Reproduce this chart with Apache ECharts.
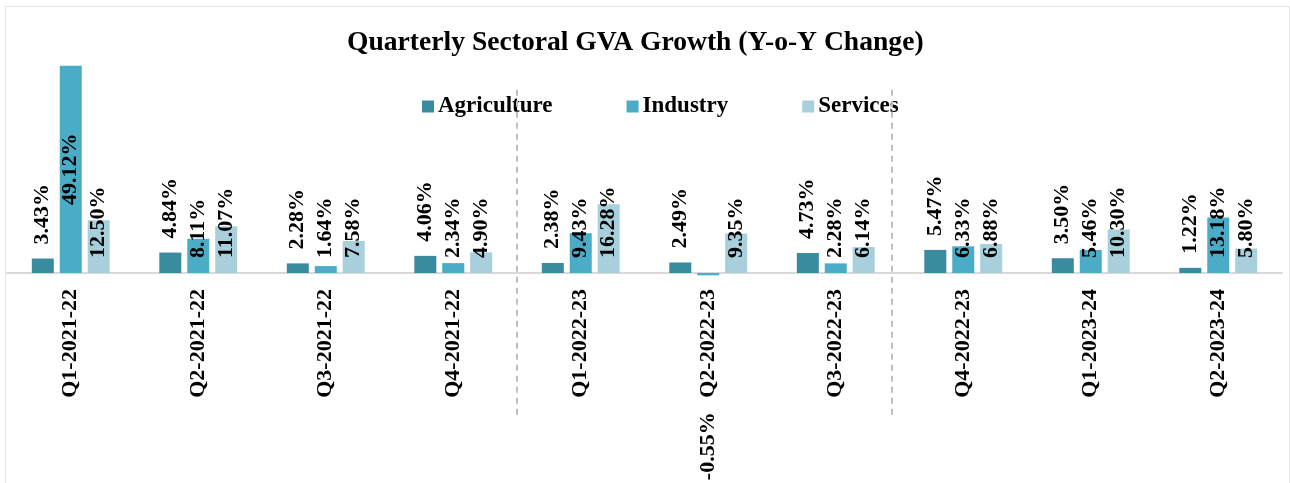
<!DOCTYPE html>
<html>
<head>
<meta charset="utf-8">
<script src="https://cdn.jsdelivr.net/npm/echarts@6/dist/echarts.min.js"></script>
<style>
  html, body { margin: 0; padding: 0; background: #fff; }
  #chartGva { width: 1290px; height: 483px; }
  .frame { position: absolute; left: 5px; top: 6px; width: 1283px; height: 500px;
           border: 1px solid #e6e6e6; pointer-events: none; }
</style>
</head>
<body>
<div id="chartGva"></div>
<div class="frame"></div>
<script>
var quarters = ['Q1-2021-22', 'Q2-2021-22', 'Q3-2021-22', 'Q4-2021-22', 'Q1-2022-23',
  'Q2-2022-23', 'Q3-2022-23', 'Q4-2022-23', 'Q1-2023-24', 'Q2-2023-24'];
var agriculture = [3.43, 4.84, 2.28, 4.06, 2.38, 2.49, 4.73, 5.47, 3.50, 1.22];
var industry = [49.12, 8.11, 1.64, 2.34, 9.43, -0.55, 2.28, 6.33, 5.46, 13.18];
var services = [12.50, 11.07, 7.58, 4.90, 16.28, 9.35, 6.14, 6.88, 10.30, 5.80];
// dashed separators between fiscal years (x in category units from the left edge)
var dividerX = [4, 6.94];
var dividerY = [43.4, -33.6];

var FONT = '"Liberation Serif", "Times New Roman", serif';

function pct(p) {
  return p.value.toFixed(2) + '%';
}

// label for industry / services: sits on the base of the bar
function baseLabel() {
  return {
    show: true, position: 'insideBottom', distance: 15, rotate: 90,
    align: 'left', verticalAlign: 'middle',
    fontFamily: FONT, fontWeight: 'bold', fontSize: 22, color: '#000',
    formatter: pct
  };
}

function withSpecialLabels(values) {
  return values.map(function (v) {
    if (v > 30) {
      // tall bar, label in the middle
      return { value: v, label: { position: 'inside', align: 'center' } };
    }
    if (v < 0) {
      // negative bar, label pushed below the category name
      return { value: v, label: { position: 'bottom', distance: 137, align: 'right' } };
    }
    return v;
  });
}

var chartGva = echarts.init(document.getElementById('chartGva'));
var chart_option = {
  animation: false,
  title: {
    text: 'Quarterly Sectoral GVA Growth (Y-o-Y Change)',
    left: 347,
    top: 29,
    padding: 0,
    textStyle: { fontFamily: FONT, fontWeight: 'bold', fontSize: 27.6, color: '#000' }
  },
  legend: {
    left: 422,
    top: 95,
    padding: 0,
    icon: 'rect',
    itemWidth: 12,
    itemHeight: 12,
    itemGap: 74,
    textStyle: { fontFamily: FONT, fontWeight: 'bold', fontSize: 23, color: '#000', padding: [0, 0, 0, -1] },
    data: ['Agriculture', 'Industry', 'Services']
  },
  grid: [
    // bars: bottom edge of the plot is the zero line
    { left: 7, right: 8, top: 62, bottom: 210, outerBoundsMode: 'none' },
    // overlay for the dashed separators
    { left: 7, right: 8, top: 62, bottom: 20, outerBoundsMode: 'none' }
  ],
  xAxis: [
    {
      type: 'category',
      gridIndex: 0,
      data: quarters,
      axisLine: { lineStyle: { color: '#d9d9d9', width: 2 } },
      axisTick: { show: false },
      axisLabel: {
        interval: 0, rotate: 90, margin: 16,
        fontFamily: FONT, fontWeight: 'bold', fontSize: 22, color: '#000'
      }
    },
    { type: 'value', gridIndex: 1, min: 0, max: 10, show: false }
  ],
  yAxis: [
    { type: 'value', gridIndex: 0, min: 0, max: 50, show: false, splitLine: { show: false } },
    { type: 'value', gridIndex: 1, min: -45, max: 50, show: false, splitLine: { show: false } }
  ],
  series: [
    {
      name: 'Agriculture', type: 'bar', data: agriculture,
      barWidth: 22, barGap: '27%',
      itemStyle: { color: '#3a8aa0' },
      label: {
        show: true, position: 'top', distance: 14, rotate: 90,
        align: 'left', verticalAlign: 'middle',
        fontFamily: FONT, fontWeight: 'bold', fontSize: 22, color: '#000',
        formatter: pct
      }
    },
    {
      name: 'Industry', type: 'bar', data: withSpecialLabels(industry),
      barWidth: 22, barGap: '27%', clip: false,
      itemStyle: { color: '#4aacc6' },
      label: baseLabel()
    },
    {
      name: 'Services', type: 'bar', data: services,
      barWidth: 22, barGap: '27%',
      itemStyle: { color: '#a7cfdc' },
      label: baseLabel()
    },
    {
      name: 'dividers', type: 'line', xAxisIndex: 1, yAxisIndex: 1, data: [],
      markLine: {
        silent: true,
        symbol: 'none',
        label: { show: false },
        lineStyle: { color: '#bfbfbf', width: 2, type: [6, 5] },
        data: dividerX.map(function (x) {
          return [{ coord: [x, dividerY[0]] }, { coord: [x, dividerY[1]] }];
        })
      }
    }
  ]
};
chartGva.setOption(chart_option);
</script>
</body>
</html>
